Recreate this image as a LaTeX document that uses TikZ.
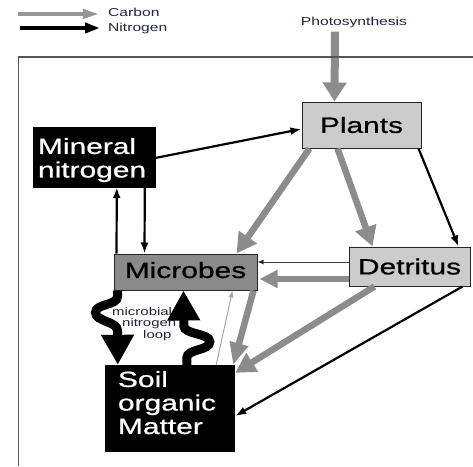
\documentclass[tikz,border=0pt]{standalone}
\usepackage{fontspec}
\setmainfont{Liberation Sans}
\newfontfamily\wsans[FakeStretch=1.36]{Liberation Sans}
\newfontfamily\wbig[FakeStretch=1.36,FakeBold=0.8]{Liberation Sans}
\usetikzlibrary{arrows.meta,calc}
\definecolor{cgray}{RGB}{140,140,140}
\definecolor{legcgray}{RGB}{150,150,150}
\definecolor{lightbox}{RGB}{204,204,204}
\definecolor{midbox}{RGB}{138,138,138}
\definecolor{framec}{RGB}{85,85,85}
\definecolor{smalltext}{RGB}{35,35,60}
\definecolor{thingray}{RGB}{165,165,165}
\definecolor{thindark}{RGB}{60,60,60}
\begin{document}
\begin{tikzpicture}[x=1pt,y=-1pt,
  greybox/.style={draw=black!85, line width=1pt, fill=lightbox, inner sep=0pt,
    font=\wbig\fontsize{22}{24}\selectfont},
  microbox/.style={greybox, fill=midbox},
  blackbox/.style={draw=black, fill=black, text=white, inner sep=0pt, align=left,
    font=\wbig\fontsize{22}{23.5}\selectfont},
  carbon/.style={draw=cgray, line width=6.5pt, -{Triangle[length=20pt,width=21pt]}},
  nitro/.style={draw=black, line width=2.2pt, -{Latex[length=11pt,width=8pt]}},
  thinn/.style={draw=thindark, line width=0.9pt, -{Latex[length=6pt,width=5pt,fill=black]}},
  thinc/.style={draw=thingray, line width=1pt, -{Latex[length=7pt,width=5pt]}},
  looparrow/.style={draw=black, line width=9pt, -{Triangle[length=30pt,width=31pt]}},
  small/.style={font=\wsans\fontsize{11.5}{12}\selectfont, text=smalltext, inner sep=0pt},
  legc/.style={draw=legcgray, line width=3.8pt, -{Triangle[length=16pt,width=9pt]}},
  legn/.style={draw=black, line width=4.2pt, -{Triangle[length=15pt,width=10pt]}},
]
\useasboundingbox (0,0) rectangle (473,466);

% legend
\node[small, anchor=base west] (carbonlbl) at (108,16) {Carbon};
\node[small, anchor=base west] (nitrolbl) at (108,31.5) {Nitrogen};
\coordinate (cstart) at (18,14);
\coordinate (cend) at (99,14);
\coordinate (nstart) at (20,28);
\coordinate (nend) at (100,28);
\draw[legc] (cstart) -- (cend);
\draw[legn] (nstart) -- (nend);

% nodes
\node[small, anchor=base] (photo) at (354,25) {Photosynthesis};
\node[greybox, minimum width=119pt, minimum height=46pt] (plants) at (361.5,125) {Plants};
\node[microbox, minimum width=143pt, minimum height=36pt, text depth=4pt] (microbes) at (185.5,272) {Microbes};
\node[greybox, minimum width=121pt, minimum height=39pt] (detritus) at (409.5,266.5) {Detritus};
\node[blackbox, minimum width=122pt, minimum height=60pt, text width=112pt, text depth=22pt] (mineral) at (94,157) {Mineral\\nitrogen};
\node[blackbox, minimum width=129pt, minimum height=86pt, text width=103pt, text depth=58pt] (som) at (169.5,408) {Soil\\organic\\Matter};
\node[font=\wsans\fontsize{11}{11.5}\selectfont, text=smalltext, inner sep=0pt, align=left, anchor=north west] (looplbl) at (112,307)
  {microbial\\\hspace*{10pt}nitrogen\\\hspace*{31pt}loop};

% photosynthesis
\draw[carbon, line width=8pt, -{Triangle[length=19pt,width=23pt]}] ($(photo.south)+(-19,4)$) -- ($(plants.north west)+(33,0)$);

% carbon flows
\draw[carbon] ($(plants.south west)+(8,0)$) -- ($(microbes.north west)+(123,0)$);
\draw[carbon] ($(plants.south west)+(36,0)$) -- ($(detritus.north west)+(24,0)$);
\draw[carbon, line width=6pt, -{Triangle[length=18pt,width=17pt]}] ($(detritus.west)+(0,12.5)$) -- ($(microbes.east)+(2,7)$);
\draw[carbon] ($(detritus.south west)+(26,0)$) -- ($(som.north east)+(1,8)$);
\draw[carbon, -{Triangle[length=22pt,width=18pt]}] ($(microbes.south east)+(-4,0)$) -- ($(som.north east)+(-1,0)$);
\draw[thinc] ($(som.north east)+(-18,0)$) -- ($(microbes.south east)+(-25,0)$);

% nitrogen flows
\draw[nitro] ($(mineral.east)+(0,1)$) -- ($(plants.west)+(0,4)$);
\draw[nitro] ($(microbes.north west)+(3,0)$) -- ($(mineral.south west)+(84,0)$);
\draw[nitro] ($(mineral.south west)+(112,0)$) -- ($(microbes.north west)+(31,0)$);
\draw[nitro] ($(plants.south east)+(-3,0)$) -- ($(detritus.north east)+(-12,0)$);
\draw[thinn] ($(detritus.west)+(0,-4.5)$) -- ($(microbes.east)+(0,-10)$);
\draw[nitro] ($(detritus.south east)+(-8,0)$) -- ($(som.east)+(1,8)$);

% microbial nitrogen loop
\draw[looparrow] ($(microbes.south west)+(4,0)$) -- ++(0,6)
  .. controls +(0,9) and +(0,-9) .. ++(-22,16)
  .. controls +(0,9) and +(0,-9) .. ++(22,18)
  -- ($(som.north west)+(13,0)$);
\draw[looparrow] ($(som.north west)+(82,0)$) -- ++(0,-7)
  .. controls +(0,-9) and +(0,9) .. ++(23,-16)
  .. controls +(0,-9) and +(0,9) .. ++(-26,-16)
  -- ($(microbes.south west)+(70,0)$);

% frame
\coordinate (ftr) at (473,57);
\coordinate (ftl) at (18.5,57);
\coordinate (fbl) at (18.5,466);
\draw[framec, line width=1.3pt] (ftr) -- (ftl) -- (fbl);
\end{tikzpicture}
\end{document}
